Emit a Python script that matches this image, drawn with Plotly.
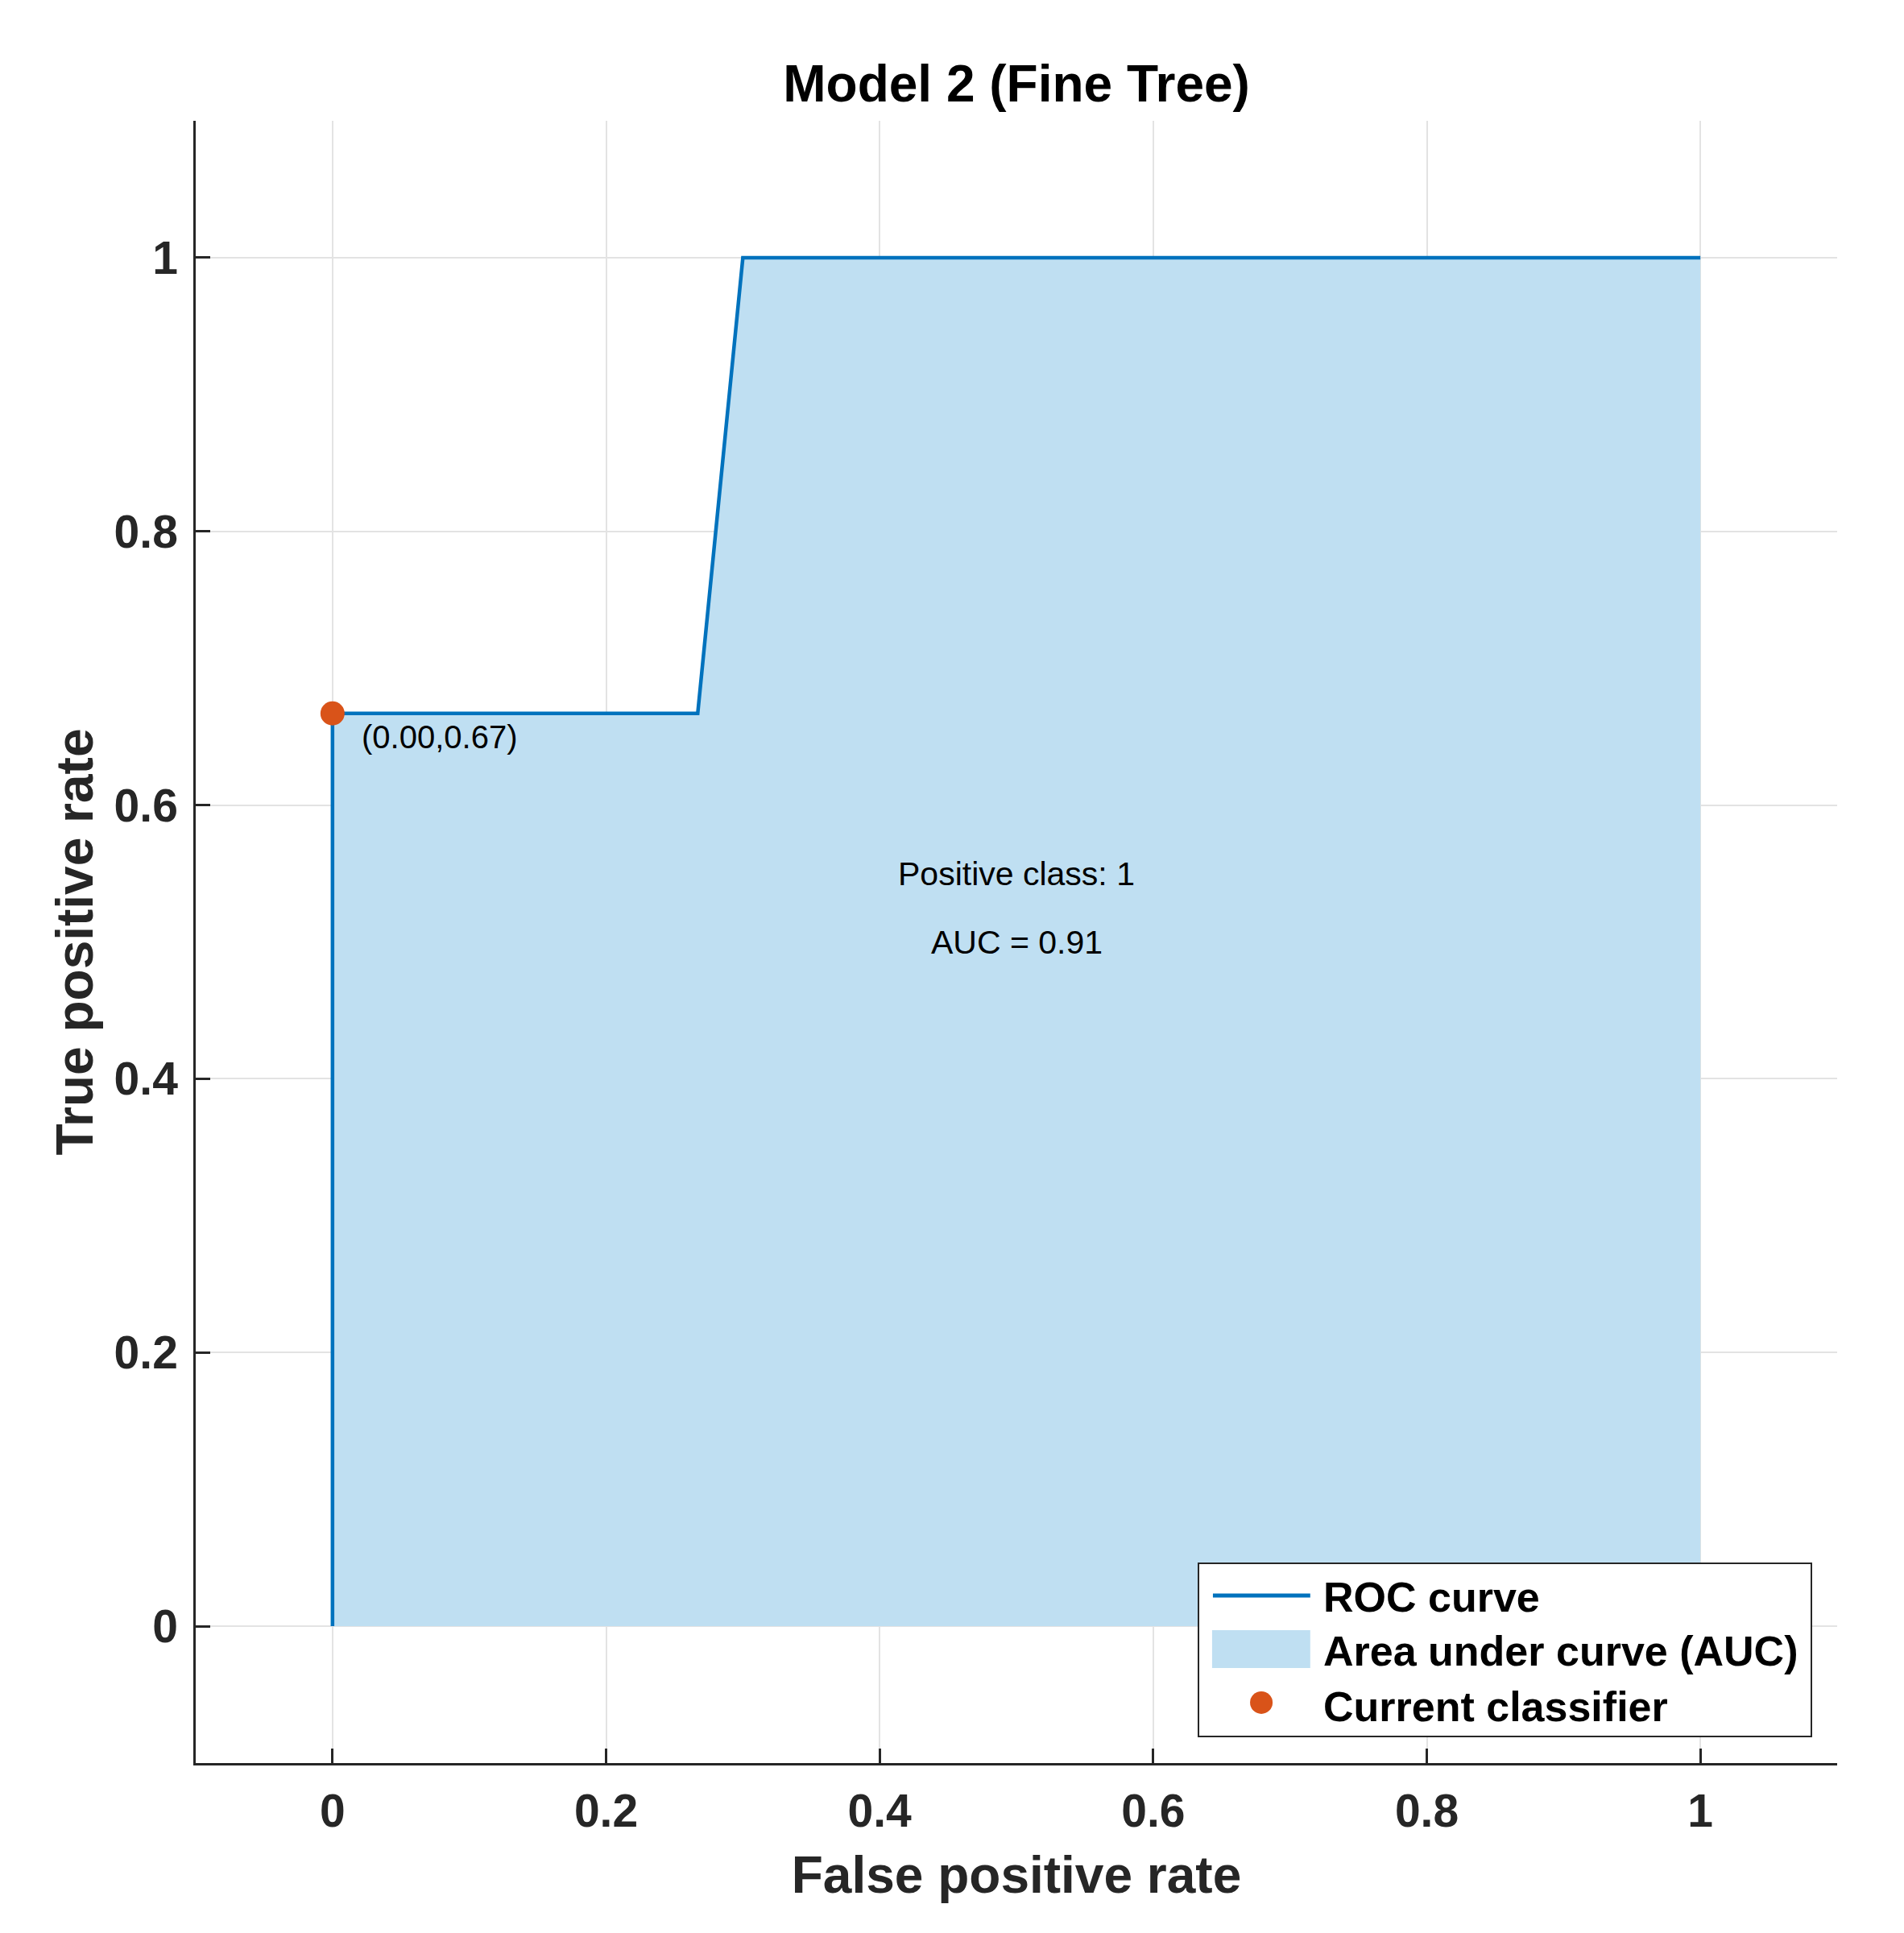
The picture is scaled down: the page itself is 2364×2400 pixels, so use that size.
import plotly.graph_objects as go

# ROC data
fpr = [0.0, 0.0, 0.267, 0.3, 1.0]
tpr = [0.0, 0.667, 0.667, 1.0, 1.0]
current_fpr = [0.0]
current_tpr = [0.667]
tick_vals = [0, 0.2, 0.4, 0.6, 0.8, 1]
tick_text = ["0", "0.2", "0.4", "0.6", "0.8", "1"]
title_text = "Model 2 (Fine Tree)"
point_label = "(0.00,0.67)"
class_label = "Positive class: 1"
auc_label = "AUC = 0.91"
legend_labels = ["ROC curve", "Area under curve (AUC)", "Current classifier"]

FONT = "Liberation Sans, Arial, Helvetica, sans-serif"
LINE_BLUE = "#0072BD"
FILL_BLUE = "#BFDFF2"
ORANGE = "#D95319"
AXIS_COL = "#262626"

fig = go.Figure()

fig.add_trace(go.Scatter(
    x=fpr, y=tpr, mode="lines", fill="tozeroy", fillcolor=FILL_BLUE,
    line=dict(width=0, color=FILL_BLUE), name=legend_labels[1],
    showlegend=False, hoverinfo="skip"))
fig.add_trace(go.Scatter(
    x=fpr, y=tpr, mode="lines", line=dict(width=4.5, color=LINE_BLUE),
    name=legend_labels[0], showlegend=False))
fig.add_trace(go.Scatter(
    x=current_fpr, y=current_tpr, mode="markers",
    marker=dict(size=30, color=ORANGE), name=legend_labels[2],
    showlegend=False, cliponaxis=False))

fig.add_annotation(x=0.02, y=0.65, text=point_label, showarrow=False,
                   xanchor="left", yanchor="middle",
                   font=dict(family=FONT, size=40, color="black"))
fig.add_annotation(x=0.5, y=0.55, text=class_label, showarrow=False,
                   xanchor="center", yanchor="middle",
                   font=dict(family=FONT, size=41, color="black"))
fig.add_annotation(x=0.5, y=0.5, text=auc_label, showarrow=False,
                   xanchor="center", yanchor="middle",
                   font=dict(family=FONT, size=41, color="black"))

# ---- manual legend (paper coordinates) ----
LX0, LX1, LY0, LY1 = 0.6109, 0.9843, 0.0162, 0.1216
fig.add_shape(type="rect", xref="paper", yref="paper",
              x0=LX0, x1=LX1, y0=LY0, y1=LY1,
              line=dict(color=AXIS_COL, width=2), fillcolor="white", layer="above")
fig.add_shape(type="line", xref="paper", yref="paper",
              x0=0.6197, x1=0.679, y0=0.102, y1=0.102,
              line=dict(color=LINE_BLUE, width=5), layer="above")
fig.add_shape(type="rect", xref="paper", yref="paper",
              x0=0.6192, x1=0.679, y0=0.0579, y1=0.0809,
              line=dict(width=0), fillcolor=FILL_BLUE, layer="above")
fig.add_shape(type="circle", xref="paper", yref="paper",
              xsizemode="pixel", ysizemode="pixel",
              xanchor=0.6492, yanchor=0.0368,
              x0=-14, x1=14, y0=-14, y1=14,
              line=dict(width=0), fillcolor=ORANGE, layer="above")
for lab, ly in zip(legend_labels, [0.101, 0.0682, 0.0343]):
    fig.add_annotation(x=0.686, y=ly, xref="paper", yref="paper", text=lab,
                       showarrow=False, xanchor="left", yanchor="middle",
                       font=dict(family=FONT, size=52, color="black", weight="bold"))

axis_common = dict(
    tickvals=tick_vals, ticktext=tick_text,
    showline=True, linecolor=AXIS_COL, linewidth=2.5,
    ticks="inside", ticklen=18, tickwidth=2.5, tickcolor=AXIS_COL,
    showgrid=True, gridcolor="#E3E3E3", gridwidth=2,
    zeroline=False, mirror=False, automargin=False, ticklabelstandoff=8,
    tickfont=dict(family=FONT, size=57, color=AXIS_COL, weight="bold"),
)

fig.update_xaxes(range=[-0.1, 1.1], **axis_common,
                 title=dict(text="False positive rate",
                            font=dict(family=FONT, size=64, color=AXIS_COL, weight="bold"),
                            standoff=27))
fig.update_yaxes(range=[-0.1, 1.1], **axis_common,
                 title=dict(text="True positive rate",
                            font=dict(family=FONT, size=64, color=AXIS_COL, weight="bold"),
                            standoff=6))

fig.update_layout(
    width=2356, height=2392,
    margin=dict(l=235, r=83, t=142, b=211),
    plot_bgcolor="white", paper_bgcolor="white",
    font=dict(family=FONT),
    title=dict(text=title_text, x=0.5323, xanchor="center",
               y=1 - 96 / 2392, yanchor="middle",
               font=dict(family=FONT, size=64, color="black", weight="bold")),
    showlegend=False,
)

fig.write_html("out.html")
